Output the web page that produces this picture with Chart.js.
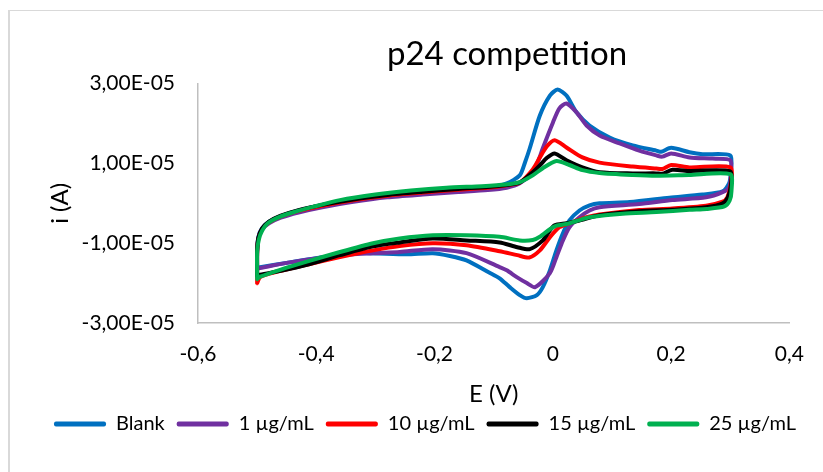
<!DOCTYPE html>
<html>
<head>
<meta charset="utf-8">
<title>p24 competition</title>
<script src="https://cdn.jsdelivr.net/npm/chart.js@4.4.1/dist/chart.umd.min.js"></script>
<style>
  html, body { margin: 0; padding: 0; background: #fff; }
</style>
</head>
<body>
<canvas id="cv" width="823" height="472"></canvas>
<script>
"use strict";
// potential (V) and current (µA) for each voltammogram, one closed loop each:
// forward scan from -0.5 V to 0.3 V, then the return scan back to -0.5 V
let blankE = [
  -0.500, -0.500, -0.498, -0.492, -0.480, -0.460, -0.430, -0.390, -0.340, -0.280, -0.220, -0.160,
  -0.110, -0.078, -0.056, -0.047, -0.039, -0.022, -0.005, 0.008, 0.023, 0.040, 0.062, 0.096,
  0.135, 0.175, 0.183, 0.200, 0.231, 0.253, 0.300,
  0.301, 0.298, 0.287, 0.253, 0.197, 0.130, 0.079, 0.062, 0.045, 0.028, 0.017, 0.006, -0.005,
  -0.017, -0.027, -0.044, -0.056, -0.073, -0.090, -0.107, -0.146, -0.174, -0.203, -0.247, -0.332,
  -0.389, -0.445, -0.495, -0.500,
];
let blankI = [
  -16.2, -12.0, -8.5, -6.3, -4.6, -3.2, -1.8, -0.4, 1.0, 2.1, 2.9, 3.5,
  4.0, 5.0, 7.0, 10.3, 13.8, 22.0, 27.0, 28.5, 27.0, 22.8, 19.5, 16.5,
  14.5, 13.2, 12.9, 13.9, 12.8, 12.3, 12.0,
  8.0, 5.0, 3.0, 2.2, 1.4, 0.3, 0.0, -0.5, -1.8, -4.3, -7.5, -11.8, -16.8,
  -21.0, -23.0, -23.8, -23.0, -21.0, -18.8, -17.4, -14.3, -13.2, -12.5, -12.8, -12.5,
  -13.5, -14.8, -16.0, -16.2,
];

let ug1E = [
  -0.500, -0.500, -0.498, -0.492, -0.480, -0.460, -0.430, -0.390, -0.340, -0.280, -0.220, -0.160,
  -0.110, -0.078, -0.056, -0.034, -0.025, -0.017, 0.000, 0.011, 0.023, 0.040, 0.057, 0.079,
  0.113, 0.146, 0.175, 0.185, 0.200, 0.231, 0.270, 0.300,
  0.301, 0.298, 0.287, 0.259, 0.202, 0.146, 0.079, 0.062, 0.045, 0.028, 0.017, 0.006, -0.005,
  -0.030, -0.044, -0.061, -0.078, -0.090, -0.146, -0.203, -0.259, -0.304, -0.360, -0.445,
  -0.495, -0.500,
];
let ug1I = [
  -16.3, -12.0, -8.8, -6.6, -5.0, -3.6, -2.3, -1.0, 0.3, 1.5, 2.2, 2.8,
  3.3, 3.9, 5.0, 7.8, 10.5, 13.8, 20.2, 23.8, 25.0, 22.8, 19.5, 17.0,
  15.0, 13.2, 12.0, 11.7, 12.5, 11.5, 11.2, 10.8,
  7.0, 4.0, 2.8, 1.5, 0.8, -0.2, -1.0, -1.8, -3.5, -6.0, -9.3, -13.5, -17.5,
  -21.0, -20.0, -18.5, -16.8, -16.0, -12.5, -11.5, -12.2, -12.5, -13.0, -14.8,
  -16.2, -16.3,
];

let ug10E = [
  -0.500, -0.500, -0.498, -0.492, -0.480, -0.460, -0.430, -0.390, -0.340, -0.280, -0.220, -0.160,
  -0.110, -0.078, -0.056, -0.034, -0.022, -0.010, 0.003, 0.023, 0.050, 0.079, 0.135, 0.175,
  0.185, 0.200, 0.231, 0.300,
  0.301, 0.295, 0.287, 0.259, 0.202, 0.146, 0.079, 0.057, 0.028, 0.011, -0.005, -0.022,
  -0.040, -0.060, -0.090, -0.146, -0.203, -0.259, -0.304, -0.360, -0.416, -0.473, -0.495,
  -0.500,
];
let ug10I = [
  -20.0, -12.5, -9.0, -6.5, -4.8, -3.3, -1.9, -0.6, 0.7, 1.9, 2.7, 3.4,
  3.9, 4.5, 5.2, 8.5, 11.5, 14.3, 15.8, 14.0, 11.5, 10.2, 9.2, 8.7,
  8.6, 9.6, 9.0, 9.0,
  5.0, 1.5, 0.4, -0.6, -1.3, -1.7, -2.8, -3.5, -5.0, -6.0, -8.5, -11.8,
  -13.6, -13.0, -12.0, -10.5, -10.0, -10.7, -11.8, -13.5, -15.4, -17.4, -18.5,
  -20.0,
];

let ug15E = [
  -0.500, -0.500, -0.498, -0.492, -0.480, -0.460, -0.430, -0.390, -0.340, -0.280, -0.220, -0.160,
  -0.110, -0.078, -0.056, -0.034, -0.022, -0.010, 0.003, 0.023, 0.050, 0.079, 0.135, 0.175,
  0.185, 0.202, 0.231, 0.300,
  0.301, 0.296, 0.287, 0.259, 0.202, 0.146, 0.079, 0.045, 0.023, 0.003, -0.005, -0.017,
  -0.039, -0.060, -0.090, -0.146, -0.203, -0.259, -0.304, -0.360, -0.416, -0.460, -0.495,
  -0.500,
];
let ug15I = [
  -18.2, -12.0, -8.7, -6.4, -4.6, -3.1, -1.7, -0.4, 0.9, 2.1, 2.9, 3.6,
  4.1, 4.6, 5.2, 7.8, 9.5, 11.4, 12.5, 10.8, 9.0, 7.8, 7.5, 7.5,
  7.4, 8.4, 8.1, 8.0,
  4.5, 1.5, 0.0, -1.0, -1.6, -2.0, -3.0, -4.3, -5.0, -5.5, -6.8, -9.3,
  -11.5, -11.0, -9.8, -9.3, -8.8, -9.8, -10.8, -13.0, -15.4, -16.9, -17.9,
  -18.2,
];

let ug25E = [
  -0.500, -0.500, -0.497, -0.492, -0.482, -0.462, -0.440, -0.406, -0.360, -0.300, -0.240, -0.180,
  -0.120, -0.080, -0.056, -0.034, -0.017, 0.006, 0.028, 0.050, 0.079, 0.135, 0.175, 0.230,
  0.300,
  0.302, 0.299, 0.290, 0.260, 0.231, 0.175, 0.118, 0.062, 0.045, 0.023, 0.006, -0.005, -0.022,
  -0.034, -0.056, -0.090, -0.146, -0.203, -0.259, -0.304, -0.360, -0.416, -0.460, -0.495,
  -0.500,
];
let ug25I = [
  -19.0, -12.0, -9.0, -7.0, -5.0, -3.4, -2.3, -0.9, 0.8, 2.2, 3.2, 3.9,
  4.3, 4.7, 5.3, 7.0, 8.8, 10.6, 9.6, 8.3, 7.6, 7.1, 6.9, 7.1,
  7.3,
  3.0, 0.7, -0.8, -1.4, -1.6, -2.2, -2.6, -3.5, -4.2, -5.2, -5.6, -6.5, -8.4,
  -9.2, -9.3, -8.4, -8.0, -8.0, -8.8, -10.0, -12.2, -14.6, -16.6, -18.4,
  -19.0,
];

let seriesNames = ["Blank", "1 µg/mL", "10 µg/mL", "15 µg/mL", "25 µg/mL"];
let seriesE = [blankE, ug1E, ug10E, ug15E, ug25E];
let seriesI = [blankI, ug1I, ug10I, ug15I, ug25I];
let seriesColors = ["#0070C0", "#7030A0", "#FF0000", "#000000", "#00B050"];

let xTicks = [-0.6, -0.4, -0.2, 0, 0.2, 0.4];
let yTicks = [-3e-5, -1e-5, 1e-5, 3e-5];

let fontFamily = "Lato, 'Open Sans', sans-serif";
let textColor = "#000000";
let axisColor = "#bfbfbf";

// Excel style number formats
function formatSci(v) {
  let parts = v.toExponential(2).split("e");
  let exp = parseInt(parts[1], 10);
  return parts[0].replace(".", ",") + "E" + (exp < 0 ? "-" : "+") + String(Math.abs(exp)).padStart(2, "0");
}

function formatPotential(v) {
  let r = Math.round(v * 10) / 10;
  if (r === 0) return "0";
  return String(r).replace(".", ",");
}

function makePoints(e, i) {
  let pts = [];
  for (let k = 0; k < e.length; k++) {
    pts.push({ x: e[k], y: i[k] * 1e-6 });
  }
  return pts;
}

let datasets = [];
for (let s = 0; s < seriesNames.length; s++) {
  datasets.push({
    label: seriesNames[s],
    data: makePoints(seriesE[s], seriesI[s]),
    borderColor: seriesColors[s],
    backgroundColor: seriesColors[s],
    borderWidth: 4,
    showLine: true,
    pointRadius: 0,
    tension: 0.25,
    borderCapStyle: "round",
    borderJoinStyle: "round",
    // Blank drawn first, 25 µg/mL ends up on top
    order: seriesNames.length - s,
  });
}

// white page with the thin grey chart frame
let chartFrame = {
  id: "chartFrame",
  beforeDraw(chart) {
    let ctx = chart.ctx;
    ctx.save();
    ctx.fillStyle = "#ffffff";
    ctx.fillRect(0, 0, chart.width, chart.height);
    ctx.fillStyle = "#d9d9d9";
    ctx.fillRect(8, 10, chart.width - 8, 1);
    ctx.fillRect(8, 10, 2, chart.height - 10);
    ctx.restore();
  },
};

// title sits over the right part, legend a bit right of centre
let shiftBlocks = {
  id: "shiftBlocks",
  afterLayout(chart) {
    if (chart.titleBlock) {
      chart.titleBlock.left += 112;
      chart.titleBlock.right += 112;
    }
    if (chart.legend) {
      chart.legend.left += 30;
      chart.legend.right += 30;
    }
  },
};

let ctx = document.getElementById("cv").getContext("2d");
let cvChart = new Chart(ctx, {
  type: "scatter",
  data: { datasets: datasets },
  plugins: [chartFrame, shiftBlocks],
  options: {
    responsive: false,
    animation: false,
    layout: { padding: { left: 0, right: 33, top: 0, bottom: 28 } },
    scales: {
      x: {
        type: "linear",
        min: -0.6,
        max: 0.4,
        afterBuildTicks(scale) {
          scale.ticks = xTicks.map((v) => ({ value: v }));
        },
        afterFit(scale) {
          scale.height = 79;
        },
        grid: { display: false, drawTicks: false },
        border: { display: true, color: axisColor, width: 1.5 },
        ticks: {
          padding: 19,
          color: textColor,
          font: { family: fontFamily, size: 21 },
          maxRotation: 0,
          autoSkip: false,
          callback: (v) => formatPotential(v),
        },
        title: {
          display: true,
          text: "E (V)",
          color: textColor,
          font: { family: fontFamily, size: 24 },
          padding: { top: 0, bottom: -7 },
        },
      },
      y: {
        type: "linear",
        min: -3e-5,
        max: 3e-5,
        afterBuildTicks(scale) {
          scale.ticks = yTicks.map((v) => ({ value: v }));
        },
        afterFit(scale) {
          scale.width = 198;
        },
        grid: { display: false, drawTicks: false },
        border: { display: true, color: axisColor, width: 1.5 },
        ticks: {
          padding: 23,
          color: textColor,
          font: { family: fontFamily, size: 21 },
          autoSkip: false,
          callback: (v) => formatSci(v),
        },
        title: {
          display: true,
          text: "i (A)",
          color: textColor,
          font: { family: fontFamily, size: 24 },
          padding: { top: 46, bottom: 0 },
        },
      },
    },
    plugins: {
      title: {
        display: true,
        text: "p24 competition",
        color: textColor,
        font: { family: fontFamily, size: 33, weight: "normal" },
        padding: { top: 35, bottom: 9 },
      },
      legend: {
        position: "bottom",
        labels: {
          color: textColor,
          font: { family: fontFamily, size: 20 },
          boxWidth: 52,
          boxHeight: 5,
          padding: 12,
          sort: (a, b) => a.datasetIndex - b.datasetIndex,
          generateLabels(chart) {
            let items = Chart.defaults.plugins.legend.labels.generateLabels(chart);
            items.forEach((it) => {
              it.fillStyle = it.strokeStyle;
              it.lineWidth = 0;
              it.borderRadius = 2;
            });
            return items;
          },
        },
      },
      tooltip: { enabled: false },
    },
  },
});
</script>
</body>
</html>
